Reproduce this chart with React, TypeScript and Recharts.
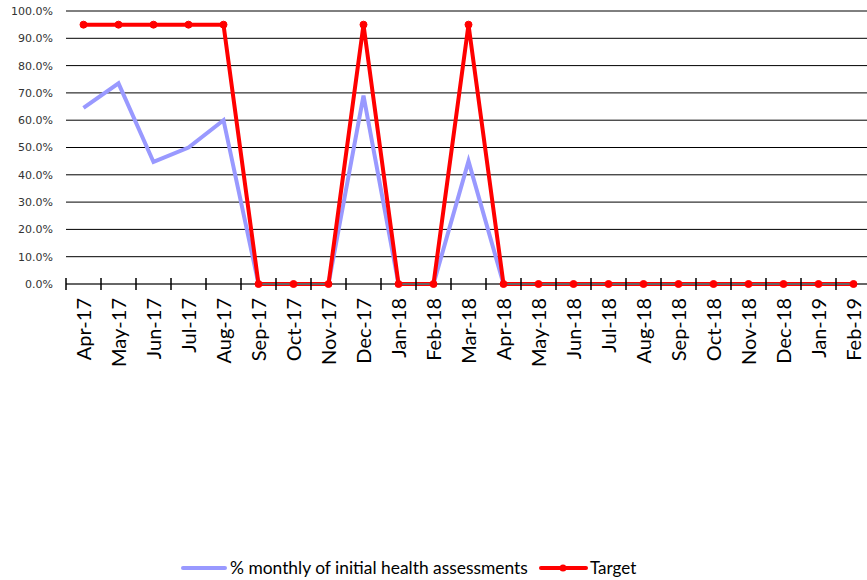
import React from "react";
import { LineChart, Line, XAxis, YAxis, CartesianGrid } from "recharts";

const categories = [
  "Apr-17", "May-17", "Jun-17", "Jul-17", "Aug-17", "Sep-17", "Oct-17", "Nov-17",
  "Dec-17", "Jan-18", "Feb-18", "Mar-18", "Apr-18", "May-18", "Jun-18", "Jul-18",
  "Aug-18", "Sep-18", "Oct-18", "Nov-18", "Dec-18", "Jan-19", "Feb-19",
];
const assessments = [
  0.645, 0.735, 0.447, 0.5, 0.6, 0, 0, 0, 0.69, 0, 0, 0.45, 0,
  0, 0, 0, 0, 0, 0, 0, 0, 0, 0,
];
const target = [
  0.95, 0.95, 0.95, 0.95, 0.95, 0, 0, 0, 0.95, 0, 0, 0.95, 0,
  0, 0, 0, 0, 0, 0, 0, 0, 0, 0,
];
const yTicks = [0, 0.1, 0.2, 0.3, 0.4, 0.5, 0.6, 0.7, 0.8, 0.9, 1.0];

const data = categories.map((c, i) => ({ cat: c, a: assessments[i], t: target[i] }));

const BLUE = "#9999FF";
const RED = "#FF0000";
const LABEL_FONT = "Lato, Calibri, 'Open Sans', sans-serif";

const XTick = (props: any) => {
  const { x, y, payload, bw } = props;
  return (
    <g transform={`translate(${x},${y})`}>
      <line x1={-bw / 2} y1={-6} x2={-bw / 2} y2={6} stroke="#000" strokeWidth={1.5} />
      <text
        transform="rotate(-90)"
        x={-14}
        y={0}
        dy="0.35em"
        textAnchor="end"
        fontSize={20}
        fontFamily={LABEL_FONT}
        fill="#000"
      >
        {payload.value}
      </text>
    </g>
  );
};

const LegendRow = () => (
  <svg width={867} height={24} style={{ position: "absolute", left: 0, top: 556 }}>
    <line x1={183} y1={12} x2={225} y2={12} stroke={BLUE} strokeWidth={4} strokeLinecap="round" />
    <text x={230} y={12} dy="0.35em" fontSize={17.4} fontFamily={LABEL_FONT} fill="#000">
      % monthly of initial health assessments
    </text>
    <line x1={541} y1={12} x2={586} y2={12} stroke={RED} strokeWidth={4} strokeLinecap="round" />
    <circle cx={563} cy={12} r={3.5} fill={RED} />
    <text x={590} y={12} dy="0.35em" fontSize={17} fontFamily={LABEL_FONT} fill="#000">
      Target
    </text>
  </svg>
);

export default function App() {
  const W = 867;
  const H = 580;
  const left = 66;
  const right = -4;
  const bw = (W - left - right) / categories.length;
  return (
    <div style={{ position: "absolute", left: 0, top: 0, width: W, height: H, background: "#fff" }}>
      <LineChart
        width={W}
        height={H}
        data={data}
        margin={{ top: 11, right: right, bottom: 24, left: 0 }}
      >
        <CartesianGrid horizontal vertical={false} stroke="#000" strokeWidth={1} />
        <XAxis
          dataKey="cat"
          interval={0}
          height={272}
          tickSize={0}
          tickMargin={0}
          padding={{ left: bw / 2, right: bw / 2 }}
          axisLine={{ stroke: "#666", strokeWidth: 2 }}
          tick={<XTick bw={bw} />}
        />
        <YAxis
          width={66}
          domain={[0, 1]}
          ticks={yTicks}
          interval={0}
          axisLine={false}
          tickLine={false}
          tickSize={0}
          tickMargin={13}
          tickFormatter={(v: number) => `${(v * 100).toFixed(1)}%`}
          tick={{ fontSize: 11, fontFamily: "'DejaVu Sans', Verdana, sans-serif", fill: "#333" }}
        />
        <Line
          dataKey="a"
          stroke={BLUE}
          strokeWidth={4}
          dot={false}
          isAnimationActive={false}
        />
        <Line
          dataKey="t"
          stroke={RED}
          strokeWidth={4}
          dot={{ r: 3.5, fill: RED, stroke: RED, strokeWidth: 1 }}
          isAnimationActive={false}
        />
      </LineChart>
      <LegendRow />
    </div>
  );
}
